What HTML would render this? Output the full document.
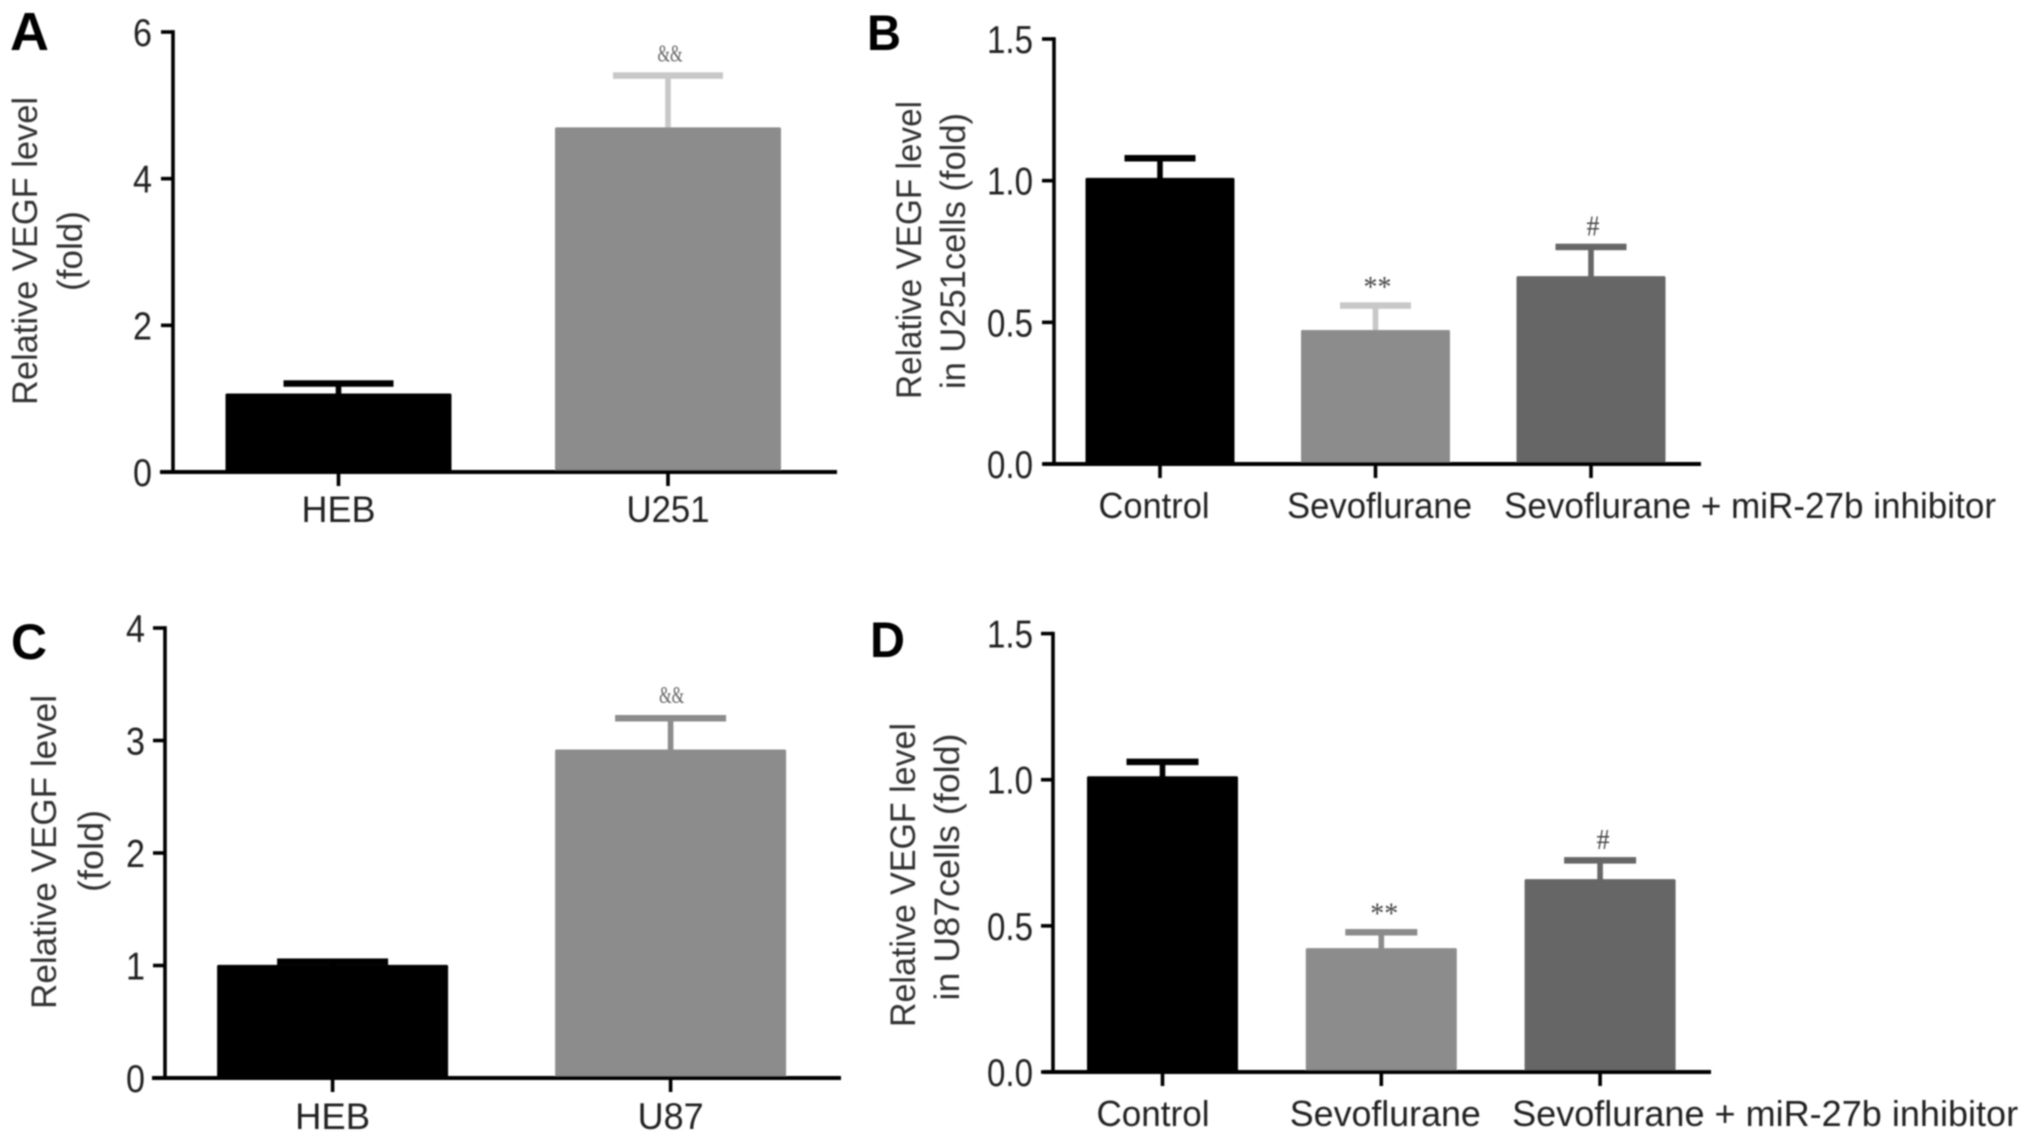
<!DOCTYPE html>
<html lang="en">
<head>
<meta charset="utf-8">
<title>Relative VEGF level bar charts</title>
<style>
html,body{margin:0;padding:0;background:#fff;}
svg{display:block;}
text{font-family:"Liberation Sans",Arial,sans-serif;fill:#222;}
</style>
</head>
<body>
<svg id="figure" xmlns="http://www.w3.org/2000/svg" width="2031" height="1141" viewBox="0 0 2031 1141">
  <defs><filter id="soft" x="-2%" y="-2%" width="104%" height="104%"><feGaussianBlur stdDeviation="0.7"/></filter></defs>
  <rect width="2031" height="1141" fill="#fff"/>
  <g id="root" filter="url(#soft)"></g>
</svg>
<script>
const panelACategories = ['HEB', 'U251'];
const panelAValues = [1.07, 4.70];
const panelAErrors = [1.21, 5.41];
const panelAMarks = ['', '&&'];
const panelATicks = ['0', '2', '4', '6'];

const panelBCategories = ['Control', 'Sevoflurane', 'Sevoflurane + miR-27b inhibitor'];
const panelBValues = [1.01, 0.473, 0.663];
const panelBErrors = [1.08, 0.56, 0.767];
const panelBMarks = ['', '**', '#'];
const panelBTicks = ['0.0', '0.5', '1.0', '1.5'];

const panelCCategories = ['HEB', 'U87'];
const panelCValues = [1.006, 2.92];
const panelCErrors = [1.036, 3.20];
const panelCMarks = ['', '&&'];
const panelCTicks = ['0', '1', '2', '3', '4'];

const panelDCategories = ['Control', 'Sevoflurane', 'Sevoflurane + miR-27b inhibitor'];
const panelDValues = [1.012, 0.424, 0.66];
const panelDErrors = [1.062, 0.479, 0.725];
const panelDMarks = ['', '**', '#'];
const panelDTicks = ['0.0', '0.5', '1.0', '1.5'];

const NS = 'http://www.w3.org/2000/svg';
const root = document.getElementById('root');

function make(tag, attrs, parent, content) {
  const node = document.createElementNS(NS, tag);
  for (const k in attrs) node.setAttribute(k, attrs[k]);
  if (content !== undefined) node.textContent = content;
  parent.appendChild(node);
  return node;
}
function slug(s) {
  return s.toLowerCase().replace(/[^a-z0-9]+/g, '-').replace(/^-|-$/g, '');
}

function drawPanel(p) {
  const g = make('g', {}, root);
  
  

  const maxTick = parseFloat(p.ticks[p.ticks.length - 1]);
  const yScale = v => p.y0 - (v / maxTick) * (p.y0 - p.yTop);
  const xScale = i => p.firstX + i * p.stepX;

  const letter = make('text', {
    x: p.letterX, y: p.letterY, 'font-size': p.letterSize, 'font-weight': 'bold',
    textLength: p.letterWidth, lengthAdjust: 'spacingAndGlyphs', style: 'fill:#000'
  }, g, p.id.toUpperCase());
  
  

  p.categories.forEach((cat, i) => {
    const cx = xScale(i);
    const fill = p.colors[i];
    const top = yScale(p.values[i]);
    const err = yScale(p.errors[i]);

    const stem = make('rect', {x: cx - 2.8, y: err, width: 5.6, height: top - err + 3, fill: p.errColors[i]}, g);
    
    

    const cap = make('rect', {x: cx - p.capW / 2, y: err - 3, width: p.capW, height: 6.5, fill: p.errColors[i]}, g);
    
    

    const bar = make('rect', {x: cx - p.barW / 2, y: top, width: p.barW, height: p.y0 - top, fill: fill, rx: 1.5}, g);
    
    

    if (p.marks[i]) {
      const mark = make('text', {
        x: cx + p.markDx, y: err - p.markGap[i], 'text-anchor': 'middle',
        'font-size': p.markSize[i], textLength: p.markWidth[i], lengthAdjust: 'spacingAndGlyphs',
        style: 'font-family:"Liberation Serif",serif;fill:' + p.markColor
      }, g, p.marks[i]);
      
      
    }

    const tick = make('rect', {x: cx - 1.8, y: p.y0, width: 3.6, height: 14, fill: '#000'}, g);
    
    

    const label = make('text', {
      x: cx + p.labelShift[i], y: p.labelY, 'text-anchor': 'middle', 'font-size': p.labelSize,
      textLength: p.labelWidths[i], lengthAdjust: 'spacingAndGlyphs'
    }, g, cat);
    
    
  });

  const yAxis = make('rect', {x: p.axisX - 1.8, y: p.yTop - 1.8, width: 3.6, height: p.y0 - p.yTop + 3.6, fill: '#000'}, g);
  
  

  const xAxis = make('rect', {x: p.xLineStart, y: p.y0 - 2, width: p.xLineEnd - p.xLineStart, height: 4, fill: '#000'}, g);
  
  

  p.ticks.forEach(t => {
    const y = yScale(parseFloat(t));
    const tick = make('rect', {x: p.axisX - 12, y: y - 1.8, width: 12, height: 3.6, fill: '#000'}, g);
    
    

    const label = make('text', {
      x: p.tickRight, y: y + p.tickDy, 'text-anchor': 'end', 'font-size': p.tickSize,
      textLength: p.tickWidth, lengthAdjust: 'spacingAndGlyphs'
    }, g, t);
    
    
  });

  p.titles.forEach((tt, i) => {
    const title = make('text', {
      transform: 'translate(' + tt.x + ' ' + tt.y + ') rotate(-90)',
      'text-anchor': 'middle', 'font-size': tt.size,
      textLength: tt.len, lengthAdjust: 'spacingAndGlyphs', style: 'fill:#333'
    }, g, tt.text);
    
    
  });
}

drawPanel({
  id: 'a', categories: panelACategories, values: panelAValues, errors: panelAErrors, marks: panelAMarks, ticks: panelATicks,
  y0: 472, yTop: 32, axisX: 173, firstX: 338.5, stepX: 329.5, barW: 226, capW: 110,
  colors: ['#000', '#8c8c8c'], errColors: ['#000', '#c8c8c8'], markColor: '#666', markDx: 2, markGap: [0, 14], markSize: [0, 24], markWidth: [0, 25],
  xLineStart: 160, xLineEnd: 837, labelY: 522, labelSize: 37, labelShift: [0, 0], labelWidths: [74, 83],
  tickRight: 152, tickDy: 14, tickSize: 39, tickWidth: 19,
  letterX: 10, letterY: 50, letterSize: 54, letterWidth: 39,
  titles: [{x: 37, y: 251, len: 308, size: 35, text: 'Relative VEGF level'}, {x: 82, y: 251, len: 80, size: 35, text: '(fold)'}]
});

drawPanel({
  id: 'b', categories: panelBCategories, values: panelBValues, errors: panelBErrors, marks: panelBMarks, ticks: panelBTicks,
  y0: 464, yTop: 39, axisX: 1054, firstX: 1160, stepX: 215.5, barW: 149, capW: 71,
  colors: ['#000', '#8c8c8c', '#666'], errColors: ['#000', '#c8c8c8', '#666'], markColor: '#444', markDx: 2, markGap: [0, 9, 11], markSize: [0, 30, 28], markWidth: [0, 28, 13],
  xLineStart: 1043, xLineEnd: 1701, labelY: 518, labelSize: 36, labelShift: [-6, 4, 159], labelWidths: [111, 185, 492],
  tickRight: 1033, tickDy: 14, tickSize: 39, tickWidth: 46,
  letterX: 867, letterY: 50, letterSize: 50, letterWidth: 34,
  titles: [{x: 921, y: 250, len: 298, size: 35, text: 'Relative VEGF level'}, {x: 965, y: 251, len: 276, size: 35, text: 'in U251cells (fold)'}]
});

drawPanel({
  id: 'c', categories: panelCCategories, values: panelCValues, errors: panelCErrors, marks: panelCMarks, ticks: panelCTicks,
  y0: 1078, yTop: 628, axisX: 165, firstX: 332.6, stepX: 338, barW: 231, capW: 111,
  colors: ['#000', '#8c8c8c'], errColors: ['#000', '#8c8c8c'], markColor: '#666', markDx: 1, markGap: [0, 15], markSize: [0, 24], markWidth: [0, 25],
  xLineStart: 152, xLineEnd: 841, labelY: 1129, labelSize: 37, labelShift: [0, 0], labelWidths: [75, 66],
  tickRight: 145, tickDy: 14, tickSize: 39, tickWidth: 19,
  letterX: 11, letterY: 659, letterSize: 50, letterWidth: 36,
  titles: [{x: 56, y: 852, len: 314, size: 35, text: 'Relative VEGF level'}, {x: 103, y: 851, len: 82, size: 35, text: '(fold)'}]
});

drawPanel({
  id: 'd', categories: panelDCategories, values: panelDValues, errors: panelDErrors, marks: panelDMarks, ticks: panelDTicks,
  y0: 1072, yTop: 633.6, axisX: 1053, firstX: 1162.5, stepX: 218.8, barW: 151, capW: 72,
  colors: ['#000', '#8c8c8c', '#666'], errColors: ['#000', '#8c8c8c', '#666'], markColor: '#444', markDx: 3, markGap: [0, 9, 11], markSize: [0, 30, 28], markWidth: [0, 28, 13],
  xLineStart: 1043, xLineEnd: 1711, labelY: 1126, labelSize: 36, labelShift: [-9.5, 4, 165], labelWidths: [113, 191, 506],
  tickRight: 1033, tickDy: 14, tickSize: 39, tickWidth: 46,
  letterX: 870, letterY: 657, letterSize: 50, letterWidth: 35,
  titles: [{x: 915, y: 875, len: 304, size: 35, text: 'Relative VEGF level'}, {x: 959, y: 867, len: 267, size: 35, text: 'in U87cells (fold)'}]
});
</script>
</body>
</html>
